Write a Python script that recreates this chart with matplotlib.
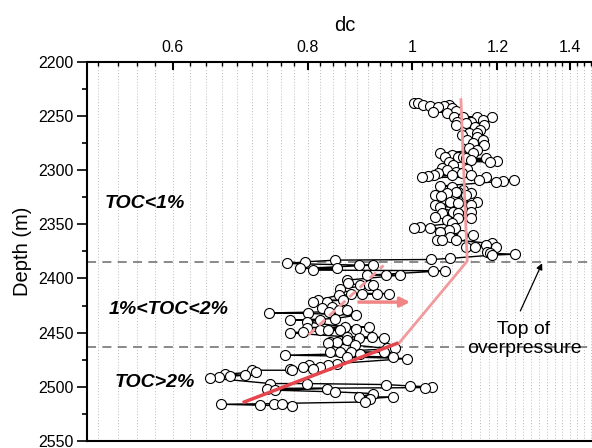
import numpy as np
import matplotlib.pyplot as plt
from matplotlib.ticker import NullFormatter

plt.rcParams['font.family'] = ['Liberation Sans', 'DejaVu Sans']

# dc readings vs depth
depth = np.array([
    2237.9, 2238.4, 2239.7, 2240.9, 2242.1, 2240.9, 2240.0, 2243.0, 2246.2, 2247.1,
    2245.2, 2250.8, 2251.3, 2250.8, 2251.3, 2253.8, 2255.4, 2256.9, 2255.4, 2258.5,
    2260.0, 2263.1, 2266.1, 2267.7, 2269.3, 2272.3, 2272.3, 2275.3, 2280.0, 2281.5,
    2284.6, 2286.2, 2287.7, 2287.7, 2289.2, 2289.2, 2290.8, 2292.3, 2291.4, 2292.3,
    2295.4, 2298.4, 2299.4, 2300.0, 2301.6, 2303.1, 2303.1, 2304.6, 2304.6, 2304.6,
    2305.5, 2306.7, 2306.7, 2309.2, 2310.8, 2309.9, 2309.2,
    2258.5, 2276.9, 2266.1, 2284.6, 2287.7, 2318.5, 2315.4, 2320.0, 2314.8, 2321.5,
    2320.0, 2321.5, 2323.1, 2324.0, 2323.1, 2329.3, 2329.3, 2330.8, 2332.3, 2332.3,
    2334.4, 2338.5, 2338.5, 2340.0, 2340.0, 2343.1, 2344.6, 2344.6, 2346.2, 2349.2,
    2352.4, 2353.8, 2353.8, 2353.8, 2355.4, 2357.0, 2360.0, 2360.0, 2361.6, 2364.6,
    2364.6, 2364.6, 2367.7, 2369.3, 2370.8, 2370.8, 2370.8, 2375.4, 2376.9, 2377.6,
    2378.5, 2381.5, 2382.5,
    2383.1, 2384.7, 2386.2, 2387.7, 2387.7, 2390.8, 2390.8, 2392.3, 2392.9, 2392.9,
    2397.0, 2397.0, 2397.0, 2401.6, 2404.6, 2406.2, 2406.2, 2406.2, 2409.3, 2415.4,
    2413.9, 2413.9, 2413.9, 2413.9, 2420.0, 2421.6, 2421.6, 2420.0, 2426.2, 2427.7,
    2430.8, 2429.3, 2429.3, 2431.8, 2432.3, 2433.9, 2437.0, 2438.5, 2440.1, 2438.5,
    2444.7, 2444.7, 2445.3, 2446.2, 2447.7, 2447.7, 2447.7, 2449.3, 2450.2, 2453.9,
    2453.9, 2455.4, 2454.5, 2458.5, 2457.0, 2458.5, 2460.0, 2461.6, 2464.6, 2464.6,
    2467.8, 2467.8, 2467.8, 2467.8, 2470.8, 2469.3, 2472.4, 2473.9, 2472.4, 2478.5,
    2480.1, 2480.1, 2481.6, 2481.6, 2483.1, 2483.1, 2484.7, 2484.7, 2486.2, 2488.4,
    2489.3, 2490.2, 2490.9, 2491.8, 2497.0, 2497.0, 2497.9, 2499.2, 2500.7, 2500.1,
    2501.6, 2503.1, 2501.6, 2504.7, 2506.2, 2509.3, 2509.3, 2510.8, 2514.0, 2516.1,
    2517.0, 2515.4, 2515.4, 2517.6,
])
dc = np.array([
    1.004, 1.013, 1.023, 1.040, 1.058, 1.071, 1.081, 1.090, 1.045, 1.077,
    1.098, 1.093, 1.116, 1.148, 1.187, 1.163, 1.101, 1.121, 1.135, 1.098,
    1.145, 1.157, 1.130, 1.113, 1.149, 1.163, 1.125, 1.140, 1.129, 1.149,
    1.062, 1.089, 1.074, 1.102, 1.121, 1.170, 1.133, 1.182, 1.199, 1.082,
    1.092, 1.066, 1.125, 1.077, 1.098, 1.058, 1.113, 1.047, 1.089, 1.135,
    1.035, 1.022, 1.170, 1.153, 1.196, 1.214, 1.243,
    1.167, 1.165, 1.149, 1.140, 1.116, 1.116, 1.089, 1.102, 1.062, 1.135,
    1.098, 1.077, 1.051, 1.064, 1.121, 1.085, 1.149, 1.102, 1.050, 1.133,
    1.062, 1.092, 1.133, 1.066, 1.102, 1.051, 1.135, 1.102, 1.077, 1.089,
    1.017, 1.005, 1.040, 1.097, 1.082, 1.062, 1.113, 1.140, 1.085, 1.054,
    1.066, 1.098, 1.185, 1.170, 1.121, 1.145, 1.196, 1.174, 1.182, 1.247,
    1.185, 1.085, 1.042,
    0.849, 0.796, 0.765, 0.893, 0.921, 0.788, 0.852, 0.809, 1.045, 1.074,
    0.909, 0.945, 0.975, 0.870, 0.873, 0.895, 0.912, 0.921, 0.858, 0.855,
    0.877, 0.898, 0.928, 0.951, 0.818, 0.809, 0.834, 0.863, 0.843, 0.826,
    0.838, 0.855, 0.870, 0.737, 0.801, 0.888, 0.849, 0.771, 0.799, 0.822,
    0.867, 0.912, 0.799, 0.888, 0.822, 0.836, 0.858, 0.793, 0.770, 0.870,
    0.918, 0.893, 0.942, 0.840, 0.870, 0.852, 0.836, 0.886, 0.948, 0.965,
    0.840, 0.858, 0.877, 0.942, 0.762, 0.895, 0.961, 0.989, 0.870, 0.852,
    0.802, 0.836, 0.822, 0.793, 0.809, 0.771, 0.774, 0.711, 0.716, 0.671,
    0.700, 0.678, 0.662, 0.650, 0.739, 0.799, 0.945, 0.996, 1.029, 1.044,
    0.734, 0.747, 0.834, 0.849, 0.921, 0.893, 0.961, 0.915, 0.904, 0.665,
    0.723, 0.744, 0.758, 0.774,
])

# trend lines
trend_dc = [1.11, 1.125, 0.972]
trend_depth = [2235, 2384, 2460]
deep_dc = [0.968, 0.699]
deep_depth = [2460, 2514]
mid_dc = [0.802, 0.941]
mid_depth = [2452, 2388]

boundaries = [2385, 2463]
x_ticks = [0.6, 0.8, 1.0, 1.2, 1.4]
x_labels = ['0.6', '0.8', '1', '1.2', '1.4']

fig = plt.figure(figsize=(5.92, 4.48), dpi=100)
ax = fig.add_axes([0.1475, 0.0156, 0.8694, 0.8467])

for b in boundaries:
    ax.axhline(b, color='#808080', ls=(0, (5, 3.5)), lw=1.3, zorder=1)

order = np.argsort(depth, kind='stable')
ax.plot(dc[order], depth[order], '-o', color='black', lw=1.0, ms=7.2,
        mfc='white', mec='black', mew=0.8, zorder=3)

ax.plot(trend_dc, trend_depth, color='#f29a9c', lw=2, zorder=4)
ax.plot(deep_dc, deep_depth, color='#e5464e', lw=2.5, zorder=4)
ax.plot(mid_dc, mid_depth, color='#f29a9c', lw=2, ls=(0, (3, 2)), zorder=4)
ax.annotate('', xy=(0.996, 2421.8), xytext=(0.893, 2421.8),
            arrowprops=dict(arrowstyle='-|>', color='#f08585', lw=2.5,
                            mutation_scale=14, shrinkA=0, shrinkB=0), zorder=5)

ax.annotate('', xy=(1.32, 2386), xytext=(1.26, 2430),
            arrowprops=dict(arrowstyle='-|>', color='black', lw=0.9,
                            mutation_scale=9, shrinkA=0, shrinkB=0))
ax.text(1.27, 2456, 'Top of\noverpressure', fontsize=14, ha='center', va='center')

bold = dict(fontsize=14, fontweight='bold', fontstyle='italic', ha='left', va='center')
ax.text(0.519, 2331, 'TOC<1%', **bold)
ax.text(0.523, 2429, '1%<TOC<2%', **bold)
ax.text(0.530, 2496, 'TOC>2%', **bold)

ax.set_xscale('log')
ax.set_xlim(0.5, 1.5)
ax.set_ylim(2550, 2200)

minor = 0.6 + np.arange(-4, 41) * 0.2 / 9
minor = [m for m in minor if min(abs(m - t) for t in x_ticks) > 1e-6]
ax.set_xticks(x_ticks, x_labels)
ax.set_xticks(minor, minor=True)
ax.xaxis.set_minor_formatter(NullFormatter())
ax.xaxis.tick_top()
ax.xaxis.set_label_position('top')
ax.set_yticks(np.arange(2200, 2551, 50))
ax.set_yticks(np.arange(2225, 2550, 50), minor=True)

ax.tick_params(axis='x', which='major', direction='in', length=6, width=1.5,
               labelsize=11.5, pad=5)
ax.tick_params(axis='x', which='minor', direction='in', length=3, width=1.0)
ax.tick_params(axis='y', which='major', direction='out', length=7, width=1.2,
               labelsize=11.5, pad=3)
ax.tick_params(axis='y', which='minor', direction='out', length=3.5, width=1.2)

ax.grid(True, which='both', axis='x', ls=(0, (1, 2)), color='#bcbcbc', lw=0.7, zorder=0)
ax.set_axisbelow(True)
for s in ax.spines.values():
    s.set_linewidth(1.5)

ax.set_xlabel('dc', fontsize=14.5, labelpad=6)
ax.set_ylabel('Depth (m)', fontsize=14.5, labelpad=4)

fig.savefig('out.png', dpi=100)
